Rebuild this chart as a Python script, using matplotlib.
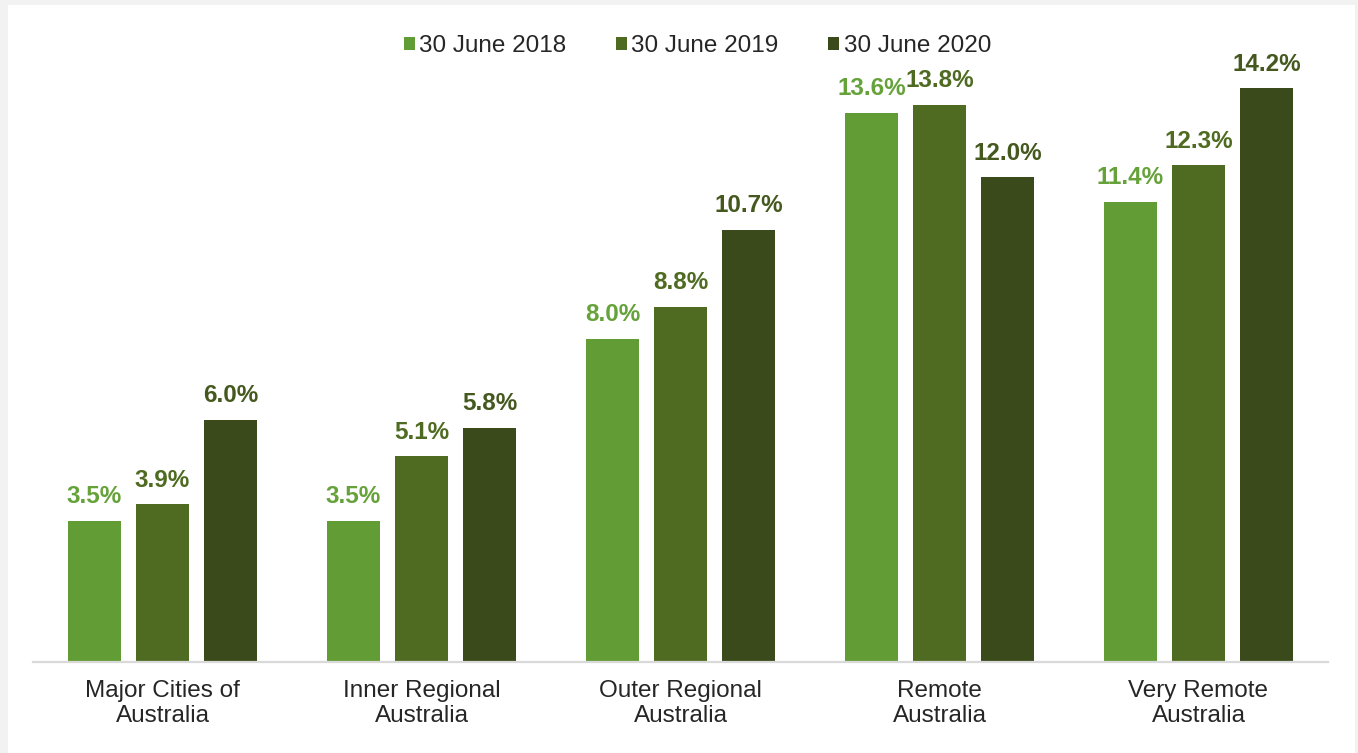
import numpy as np
import matplotlib.pyplot as plt
from matplotlib.patches import Rectangle

plt.rcParams['font.family'] = ['Liberation Sans', 'DejaVu Sans']

categorie = ['Major Cities of\nAustralia', 'Inner Regional\nAustralia', 'Outer Regional\nAustralia',
             'Remote\nAustralia', 'Very Remote\nAustralia']
serie = ['30 June 2018', '30 June 2019', '30 June 2020']
valori_2018 = [3.5, 3.5, 8.0, 13.6, 11.4]
valori_2019 = [3.9, 5.1, 8.8, 13.8, 12.3]
valori_2020 = [6.0, 5.8, 10.7, 12.0, 14.2]

colori = ['#629C34', '#4F6B21', '#3A4A1A']
colori_etichette = ['#66A23A', '#4F6B21', '#45591F']

fig = plt.figure(figsize=(13.58, 7.53), dpi=100, facecolor='#F2F2F2')
# riquadro bianco dentro il bordo grigio
fig.add_artist(Rectangle((8 / 1358, 0), 1347 / 1358, 748 / 753,
                         transform=fig.transFigure, facecolor='white',
                         edgecolor='none', zorder=-10))

ax = fig.add_axes([33 / 1358, 91 / 753, 1295 / 1358, 622 / 753])
ax.set_facecolor('none')
ax.set_zorder(1)

x = np.arange(len(categorie))
larghezza = 0.205
passo = 0.263

for i, (valori, nome) in enumerate(zip([valori_2018, valori_2019, valori_2020], serie)):
    pos = x + (i - 1) * passo
    barre = ax.bar(pos, valori, width=larghezza, color=colori[i], label=nome, zorder=2)
    for p, v in zip(pos, valori):
        ax.annotate(f'{v:.1f}%', (p, v), xytext=(0, 9), textcoords='offset points',
                    ha='center', va='bottom', fontsize=17.5, fontweight='bold',
                    color=colori_etichette[i])

ax.set_xlim(-0.5, 4.5)
ax.set_ylim(0, 15.4)
ax.set_xticks(x)
ax.set_xticklabels(categorie, fontsize=17.5, color='#262626', linespacing=1.2)
ax.tick_params(axis='x', length=0, pad=13)
ax.set_yticks([])
for lato in ['top', 'right', 'left']:
    ax.spines[lato].set_visible(False)
ax.spines['bottom'].set_color('#D9D9D9')
ax.spines['bottom'].set_linewidth(1.6)

leg = ax.legend(loc='center', bbox_to_anchor=(0.513, 0.99), ncol=3, frameon=False,
                fontsize=17.5, handlelength=0.45, handleheight=0.45, handletextpad=0.18,
                columnspacing=2.05)
for t in leg.get_texts():
    t.set_color('#262626')

fig.savefig('out.png', dpi=100, facecolor=fig.get_facecolor())
